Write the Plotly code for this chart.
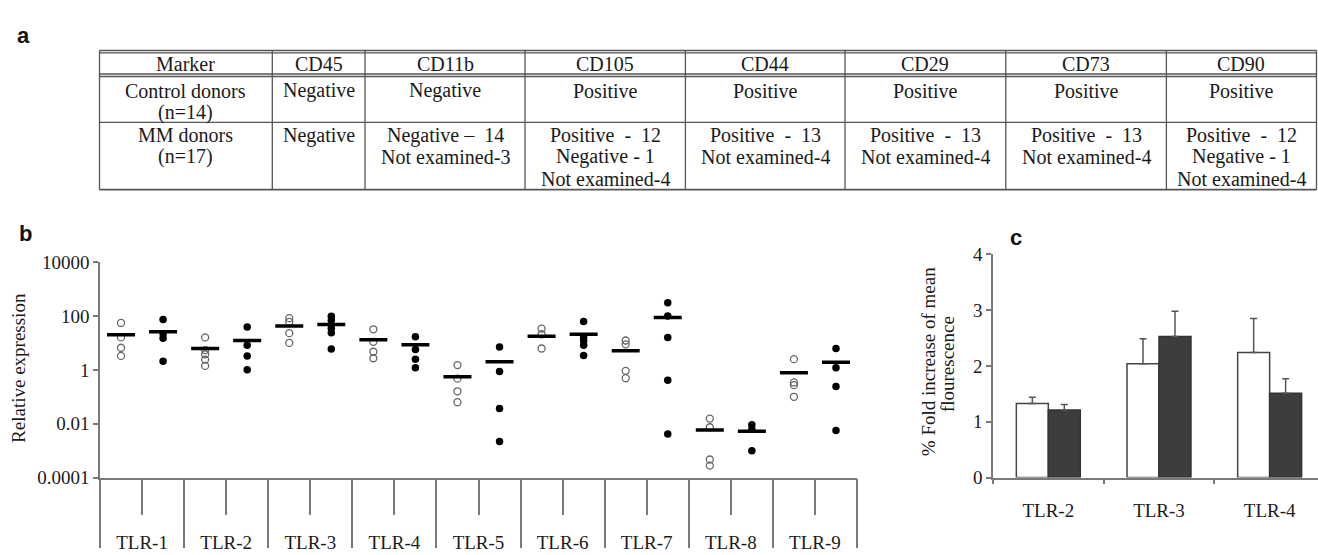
import plotly.graph_objects as go

W, H = 1318, 555

# ---------------- data ----------------
# panel a (table)
table_header = ["Marker", "CD45", "CD11b", "CD105", "CD44", "CD29", "CD73", "CD90"]
table_control = [["Control donors", "(n=14)"], ["Negative"], ["Negative"], ["Positive"],
                 ["Positive"], ["Positive"], ["Positive"], ["Positive"]]
table_mm = [["MM donors", "(n=17)"], ["Negative"], ["Negative \u2013  14", "Not examined-3"],
            ["Positive  -  12", "Negative - 1", "Not examined-4"],
            ["Positive  -  13", "Not examined-4"], ["Positive  -  13", "Not examined-4"],
            ["Positive  -  13", "Not examined-4"],
            ["Positive  -  12", "Negative - 1", "Not examined-4"]]

# panel b
tlr_categories = ["TLR-1", "TLR-2", "TLR-3", "TLR-4", "TLR-5", "TLR-6", "TLR-7", "TLR-8", "TLR-9"]
control_values = [[55, 16, 6.6, 3.3], [16, 5.4, 3.8, 2.4, 1.4], [83, 60, 23, 10],
                  [32, 11, 4.7, 2.7], [1.5, 0.47, 0.16, 0.063], [34, 21, 6.2],
                  [12.3, 8.9, 0.92, 0.49], [0.0155, 0.0074, 0.00047, 0.00028],
                  [2.5, 0.34, 0.27, 0.10]]
mm_values = [[74, 22, 15, 2.1], [39, 8.2, 3.3, 1.0], [98, 70, 35, 24, 6],
             [17, 5.7, 2.5, 1.2], [7.1, 0.87, 0.037, 0.0022], [62, 16, 12, 8.2, 3.4],
             [308, 100, 16, 0.41, 0.0042], [0.0092, 0.0063, 0.0010],
             [6.2, 1.2, 0.24, 0.0056]]
control_means = [20, 6.2, 42, 13, 0.56, 17.5, 5.1, 0.0059, 0.78]
mm_means = [26, 12.3, 48, 8.6, 2.0, 21, 87, 0.0053, 1.9]
log_tickvals = [0.0001, 0.01, 1, 100, 10000]
log_ticktext = ["0.0001", "0.01", "1", "100", "10000"]

# panel c
fl_categories = ["TLR-2", "TLR-3", "TLR-4"]
control_fold = [1.33, 2.04, 2.24]
control_err = [0.11, 0.45, 0.61]
mm_fold = [1.21, 2.53, 1.51]
mm_err = [0.10, 0.45, 0.26]

# ---------------- helpers ----------------
def px(x):
    return x / W

def py(y):
    return 1 - y / H

SERIF = "Liberation Serif, Times New Roman, serif"
SANS = "Liberation Sans, Arial, sans-serif"
TXT = "#1a1a1a"
AX = "#7a7a7a"

fig = go.Figure()

# ---------------- panel b ----------------
cx = [i + 0.25 for i, vals in enumerate(control_values) for _ in vals]
cy = [v for vals in control_values for v in vals]
mx = [i + 0.75 for i, vals in enumerate(mm_values) for _ in vals]
my = [v for vals in mm_values for v in vals]

fig.add_trace(go.Scatter(x=cx, y=cy, mode="markers", xaxis="x", yaxis="y",
                         marker=dict(symbol="circle-open", size=7, color="#666",
                                     line=dict(width=1.3, color="#666")),
                         showlegend=False))
fig.add_trace(go.Scatter(x=mx, y=my, mode="markers", xaxis="x", yaxis="y",
                         marker=dict(symbol="circle", size=7.5, color="#000"),
                         showlegend=False))
fig.add_trace(go.Scatter(x=[i + 0.25 for i in range(len(control_means))], y=control_means,
                         mode="markers", xaxis="x", yaxis="y",
                         marker=dict(symbol="line-ew", size=20,
                                     line=dict(width=3.5, color="#000")),
                         showlegend=False))
fig.add_trace(go.Scatter(x=[i + 0.75 for i in range(len(mm_means))], y=mm_means,
                         mode="markers", xaxis="x", yaxis="y",
                         marker=dict(symbol="line-ew", size=20,
                                     line=dict(width=3.5, color="#000")),
                         showlegend=False))

# ---------------- panel c ----------------
fig.add_trace(go.Bar(x=list(range(len(fl_categories))), y=control_fold, xaxis="x2", yaxis="y2",
                     marker=dict(color="#ffffff", line=dict(color="#444", width=1.5)),
                     error_y=dict(type="data", array=control_err, arrayminus=[0] * 3,
                                  symmetric=False, color="#555", thickness=1.5, width=3.5),
                     showlegend=False))
fig.add_trace(go.Bar(x=list(range(len(fl_categories))), y=mm_fold, xaxis="x2", yaxis="y2",
                     marker=dict(color="#3d3d3d", line=dict(color="#333", width=1.5)),
                     error_y=dict(type="data", array=mm_err, arrayminus=[0] * 3,
                                  symmetric=False, color="#555", thickness=1.5, width=3.5),
                     showlegend=False))

axis_font = dict(family=SERIF, size=19, color=TXT)

fig.update_layout(
    width=W, height=H,
    margin=dict(l=0, r=0, t=0, b=0),
    paper_bgcolor="white", plot_bgcolor="white",
    bargap=0.422, bargroupgap=0, barmode="group",
    xaxis=dict(domain=[px(100), px(857)], range=[0, 9], anchor="y",
               showline=True, linecolor=AX, linewidth=1.5, showgrid=False, zeroline=False,
               tickvals=[i + 0.5 for i in range(len(tlr_categories))], ticktext=tlr_categories,
               ticks="outside", ticklen=36, tickcolor=AX, tickwidth=1.5,
               ticklabelstandoff=11, tickfont=axis_font,
               minor=dict(ticks="outside", ticklen=69, tick0=0, dtick=1,
                          tickcolor=AX, tickwidth=1.5, showgrid=False)),
    yaxis=dict(domain=[py(486), py(262)], type="log", range=[-4, 4], anchor="x",
               showline=True, linecolor=AX, linewidth=1.5, showgrid=False, zeroline=False,
               tickvals=log_tickvals, ticktext=log_ticktext,
               ticks="outside", ticklen=5, tickcolor=AX, tickwidth=1.5, tickfont=axis_font),
    xaxis2=dict(domain=[px(993), 1], range=[-0.5, 2.437], anchor="y2",
                showline=True, linecolor=AX, linewidth=1.5, showgrid=False, zeroline=False,
                tickvals=list(range(len(fl_categories))), ticktext=fl_categories,
                ticks="", ticklabelstandoff=15, tickfont=axis_font,
                minor=dict(ticks="outside", ticklen=5, tick0=0.5, dtick=1,
                           tickcolor=AX, tickwidth=1.5, showgrid=False)),
    yaxis2=dict(domain=[py(486), py(254)], range=[0, 4], anchor="x2",
                showline=True, linecolor=AX, linewidth=1.5, showgrid=False, zeroline=False,
                tickvals=[0, 1, 2, 3, 4], ticks="outside", ticklen=5, tickcolor=AX,
                tickwidth=1.5, tickfont=axis_font),
)

annotations = []
shapes = []

# axis titles
annotations.append(dict(text="Relative expression", x=px(19), y=py(372), xref="paper", yref="paper",
                        textangle=-90, showarrow=False, xanchor="center", yanchor="middle",
                        font=dict(family=SERIF, size=19, color=TXT)))
annotations.append(dict(text="% Fold increase of mean", x=px(928), y=py(366), xref="paper",
                        yref="paper", textangle=-90, showarrow=False, xanchor="center",
                        yanchor="middle", font=dict(family=SERIF, size=19, color=TXT)))
annotations.append(dict(text="flourescence", x=px(947), y=py(368), xref="paper",
                        yref="paper", textangle=-90, showarrow=False, xanchor="center",
                        yanchor="middle", font=dict(family=SERIF, size=19, color=TXT)))

# panel letters
for letter, lx, ly in [("a", 23, 26), ("b", 25, 232), ("c", 1016, 236)]:
    annotations.append(dict(text="<b>%s</b>" % letter, x=px(lx), y=py(ly), xref="paper",
                            yref="paper", showarrow=False, xanchor="center", yanchor="middle",
                            font=dict(family=SANS, size=22, color="#111")))

# ---------------- panel a table ----------------
col_edges = [99.5, 272.3, 365, 525, 685.4, 845, 1005.8, 1166.4, 1316.5]
row_edges = [43.3, 67.8, 116.7, 186.7]
row_first = [12.5, 16.2, 13.5]
line_step = 22.5
LC = "#555"

def hline(y, w=1.3):
    shapes.append(dict(type="line", xref="paper", yref="paper", x0=px(col_edges[0]),
                       x1=px(col_edges[-1]), y0=py(y), y1=py(y),
                       line=dict(color=LC, width=w)))

hline(row_edges[0] - 1.2)
hline(row_edges[0] + 1.2)
hline(row_edges[1] - 1.3)
hline(row_edges[1] + 1.3)
hline(row_edges[2])
hline(row_edges[3], 1.6)
for xe in col_edges:
    shapes.append(dict(type="line", xref="paper", yref="paper", x0=px(xe), x1=px(xe),
                       y0=py(row_edges[0] - 1.2), y1=py(row_edges[3]),
                       line=dict(color=LC, width=1.3)))

rows = [[[h] for h in table_header], table_control, table_mm]
for r, row in enumerate(rows):
    for c, lines in enumerate(row):
        xc = (col_edges[c] + col_edges[c + 1]) / 2
        for k, t in enumerate(lines):
            yc = row_edges[r] + row_first[r] + k * line_step
            annotations.append(dict(text=t, x=px(xc), y=py(yc), xref="paper", yref="paper",
                                    showarrow=False, xanchor="center", yanchor="middle",
                                    font=dict(family=SERIF, size=20, color=TXT)))

fig.update_layout(annotations=annotations, shapes=shapes)

fig.write_html(
    "out.html",
    config={"displayModeBar": False},
    post_script="document.body.style.margin='0';document.body.style.overflow='hidden';",
)
